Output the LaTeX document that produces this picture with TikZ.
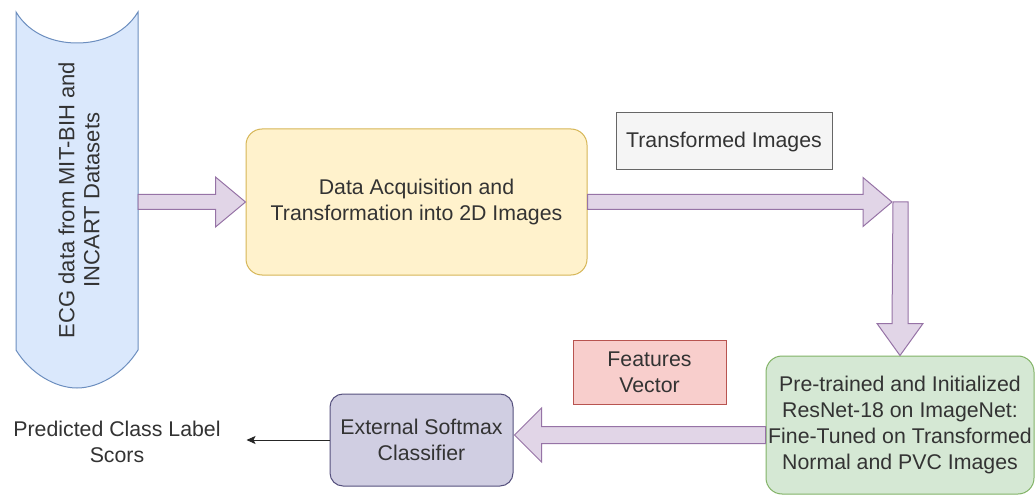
\documentclass[tikz,border=0pt]{standalone}
\usepackage{fontspec}
\setmainfont{Liberation Sans}
\usetikzlibrary{calc,arrows.meta}
\definecolor{txt}{HTML}{333333}
\definecolor{bluef}{HTML}{DAE8FC}\definecolor{blued}{HTML}{6C8EBF}
\definecolor{yelf}{HTML}{FFF2CC}\definecolor{yeld}{HTML}{D6B656}
\definecolor{grnf}{HTML}{D5E8D4}\definecolor{grnd}{HTML}{82B366}
\definecolor{redf}{HTML}{F8CECC}\definecolor{redd}{HTML}{B85450}
\definecolor{purf}{HTML}{D0CEE2}\definecolor{purd}{HTML}{56517E}
\definecolor{grayf}{HTML}{F5F5F5}\definecolor{grayd}{HTML}{666666}
\definecolor{arrf}{HTML}{E1D5E7}\definecolor{arrd}{HTML}{9673A6}
\begin{document}
\begin{tikzpicture}[x=1pt,y=-1pt,
  lbl/.style={text=txt, align=center, font=\fontsize{21.3}{26}\selectfont, inner sep=0pt},
  box/.style={lbl, draw, line width=1pt},
  rbox/.style={box, rounded corners=16pt},
  blk/.style={draw=arrd, fill=arrf, line width=1pt, line join=miter}]
\useasboundingbox (0,0) rectangle (1036,497);
\fill[white] (0,0) rectangle (1036,497);

% tape shape (ECG data)
\draw[fill=bluef, draw=blued, line width=1pt]
  (16,12) .. controls (30,35) and (55,43) .. (77,43) .. controls (99,43) and (124,35) .. (138,12)
  -- (138,350) .. controls (124,373) and (99,388) .. (77,388) .. controls (55,388) and (30,373) .. (16,350) -- cycle;
\node[lbl, rotate=90, font=\fontsize{22}{25}\selectfont] (ecg) at (79,200) {ECG data from MIT-BIH and\\INCART Datasets};
\coordinate (ecgE) at (138,202);

% boxes
\node[rbox, fill=yelf, draw=yeld, minimum width=341pt, minimum height=146pt] (acq) at (416.5,202) {Data Acquisition and\\Transformation into 2D Images};
\node[box, fill=grayf, draw=grayd, minimum width=216pt, minimum height=57pt] (ti) at (724,141.5) {Transformed Images};
\node[rbox, fill=grnf, draw=grnd, minimum width=268pt, minimum height=138pt] (res) at (900,425) {Pre-trained and Initialized\\ResNet-18 on ImageNet:\\Fine-Tuned on Transformed\\Normal and PVC Images};
\node[box, fill=redf, draw=redd, minimum width=153pt, minimum height=64pt] (fv) at (649.5,372) {Features\\Vector};
\node[rbox, rounded corners=13pt, fill=purf, draw=purd, minimum width=183pt, minimum height=92pt] (soft) at (421.5,440) {External Softmax\\Classifier};
\node[lbl] (pred) at (117,442) {Predicted Class Label\\Scors};

\coordinate (bend) at (892,202);

% arrow 1: ECG -> acquisition
\draw[blk] ($(ecgE)+(0,-7.5)$) -- ($(acq.west)+(-30,-7.5)$) -- ($(acq.west)+(-30,-25)$) -- (acq.west)
  -- ($(acq.west)+(-30,25)$) -- ($(acq.west)+(-30,7.5)$) -- ($(ecgE)+(0,7.5)$) -- cycle;

% arrow 3: vertical down to ResNet
\draw[blk] ($(bend)+(1,0)$) -- ($(bend)+(16,0)$) -- ($(res.north)+(8,-32)$) -- ($(res.north)+(23,-32)$) -- (res.north)
  -- ($(res.north)+(-23,-32)$) -- ($(res.north)+(-8,-32)$) -- cycle;

% arrow 2: acquisition -> bend
\draw[blk] ($(acq.east)+(0,-7.5)$) -- ($(bend)+(-29,-7.5)$) -- ($(bend)+(-29,-24.5)$) -- (bend)
  -- ($(bend)+(-29,24.5)$) -- ($(bend)+(-29,7.5)$) -- ($(acq.east)+(0,7.5)$) -- cycle;

% arrow 4: ResNet -> softmax
\coordinate (a4s) at ($(soft.east -| res.west)+(0,-5)$);
\coordinate (a4t) at ($(soft.east)+(1,-5)$);
\draw[blk] ($(a4s)+(0,-8.5)$) -- ($(a4t)+(27,-8.5)$) -- ($(a4t)+(27,-27)$) -- (a4t)
  -- ($(a4t)+(27,27)$) -- ($(a4t)+(27,8.5)$) -- ($(a4s)+(0,8.5)$) -- cycle;

% thin arrow: softmax -> predicted
\draw[-{Stealth[length=9pt,width=8pt,inset=2pt]}, line width=1pt, draw=black!85] (soft.west) -- ($(soft.west)+(-83,0)$);
\end{tikzpicture}
\end{document}
